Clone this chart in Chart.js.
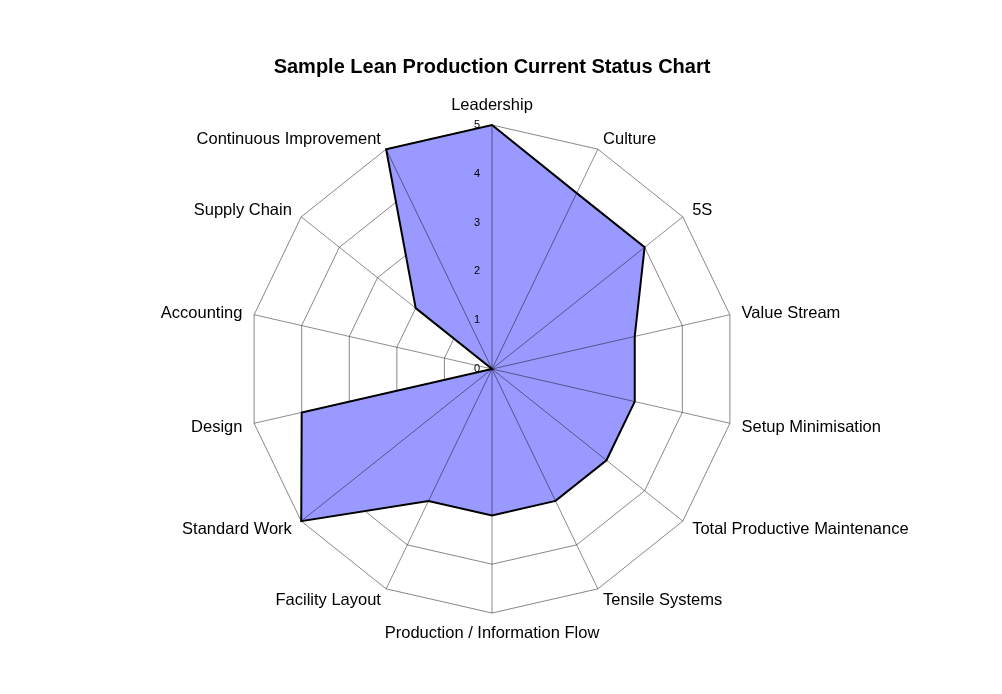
<!DOCTYPE html>
<html>
<head>
<meta charset="utf-8">
<script src="https://cdn.jsdelivr.net/npm/chart.js@4"></script>
<style>
  body { margin: 0; background: #fff; }
  #wrap { width: 1002px; height: 694px; position: relative; }
</style>
</head>
<body>
<div id="wrap"><canvas id="myRadarChart"></canvas></div>
<script>
// data
const categories = ['Leadership', 'Culture', '5S', 'Value Stream', 'Setup Minimisation',
  'Total Productive Maintenance', 'Tensile Systems', 'Production / Information Flow',
  'Facility Layout', 'Standard Work', 'Design', 'Accounting', 'Supply Chain',
  'Continuous Improvement'];
const statusValues = [5, 4, 4, 3, 3, 3, 3, 3, 3, 5, 4, 0, 2, 5];
const tickLabels = ['0', '1', '2', '3', '4', '5'];

const fontFamily = '"Liberation Sans", Arial, sans-serif';

// spokes drawn over the fill, tick labels left of the vertical axis,
// category labels centred on their spoke direction (like the original)
const overlay = {
  id: 'overlay',
  afterDatasetsDraw(chart) {
    const r = chart.scales.r;
    const ctx = chart.ctx;
    ctx.save();
    ctx.strokeStyle = 'rgba(0,0,0,0.45)';
    ctx.lineWidth = 1;
    for (let i = 0; i < categories.length; i++) {
      const p = r.getPointPosition(i, r.drawingArea);
      ctx.beginPath();
      ctx.moveTo(r.xCenter, r.yCenter);
      ctx.lineTo(p.x, p.y);
      ctx.stroke();
    }

    ctx.fillStyle = '#000';
    ctx.font = '11px ' + fontFamily;
    ctx.textAlign = 'right';
    ctx.textBaseline = 'middle';
    tickLabels.forEach((t) => {
      const d = r.getDistanceFromCenterForValue(Number(t));
      ctx.fillText(t, r.xCenter - 12, r.yCenter - d);
    });

    ctx.font = '16.5px ' + fontFamily;
    chart.data.labels.forEach((lbl, i) => {
      const p = r.getPointPosition(i, r.drawingArea + 12);
      const dx = p.x - r.xCenter;
      const dy = p.y - r.yCenter;
      let y = p.y;
      if (Math.abs(dx) < 1) {
        ctx.textAlign = 'center';
        ctx.textBaseline = dy < 0 ? 'alphabetic' : 'top';
        if (dy < 0) y -= 3;
      } else {
        ctx.textAlign = dx > 0 ? 'left' : 'right';
        ctx.textBaseline = 'middle';
        y += 1;
      }
      ctx.fillText(lbl, p.x, y);
    });
    ctx.restore();
  }
};

const ctxRadar = document.getElementById('myRadarChart').getContext('2d');
const myRadarChart = new Chart(ctxRadar, {
  type: 'radar',
  data: {
    labels: categories,
    datasets: [{
      label: 'Current Status',
      data: statusValues,
      backgroundColor: '#9999ff',
      borderColor: '#000',
      borderWidth: 2,
      fill: true,
      pointRadius: 0,
      pointHoverRadius: 0
    }]
  },
  options: {
    responsive: true,
    maintainAspectRatio: false,
    animation: false,
    layout: {
      padding: { left: 44, right: 62, top: 0, bottom: 81 }
    },
    plugins: {
      legend: { display: false },
      tooltip: { enabled: false },
      title: {
        display: true,
        text: 'Sample Lean Production Current Status Chart',
        color: '#000',
        font: { family: fontFamily, size: 20, weight: 'bold' },
        padding: { top: 55, bottom: 46 }
      }
    },
    scales: {
      r: {
        min: 0,
        max: 5,
        ticks: { stepSize: 1, display: false },
        grid: { color: '#888', lineWidth: 1 },
        angleLines: { display: false },
        pointLabels: { display: false }
      }
    }
  },
  plugins: [overlay]
});
</script>
</body>
</html>
